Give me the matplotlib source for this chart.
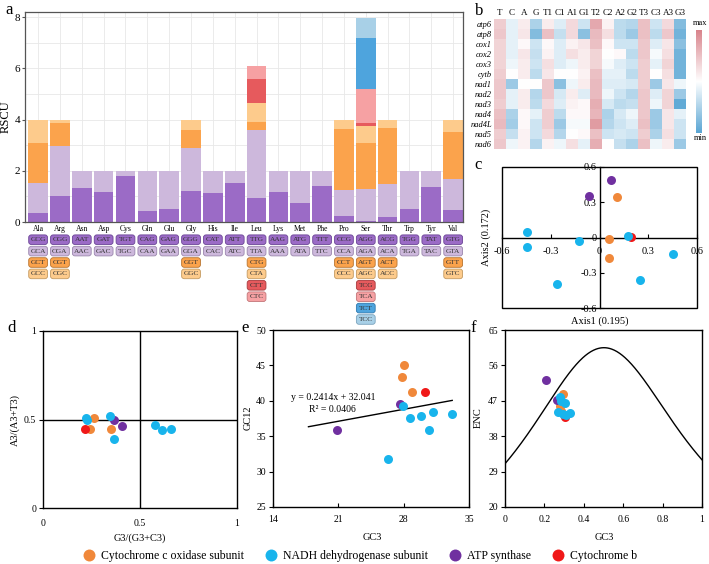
import numpy as np
import matplotlib
matplotlib.use('Agg')
import matplotlib.pyplot as plt
from matplotlib.colors import LinearSegmentedColormap
from matplotlib.patches import FancyBboxPatch, Rectangle
from matplotlib.lines import Line2D
from matplotlib.ticker import MultipleLocator
import matplotlib.transforms as mtransforms

plt.rcParams['font.family'] = ['Liberation Serif', 'DejaVu Serif']

# ---------------- data: panel a ----------------
amino = ['Ala', 'Arg', 'Asn', 'Asp', 'Cys', 'Gln', 'Glu', 'Gly', 'His', 'Ile',
         'Leu', 'Lys', 'Met', 'Phe', 'Pro', 'Ser', 'Thr', 'Trp', 'Tyr', 'Val']
codons = [
    ['GCG', 'GCA', 'GCT', 'GCC'],
    ['CGG', 'CGA', 'CGT', 'CGC'],
    ['AAT', 'AAC'],
    ['GAT', 'GAC'],
    ['TGT', 'TGC'],
    ['CAG', 'CAA'],
    ['GAG', 'GAA'],
    ['GGG', 'GGA', 'GGT', 'GGC'],
    ['CAT', 'CAC'],
    ['ATT', 'ATC'],
    ['TTG', 'TTA', 'CTG', 'CTA', 'CTT', 'CTC'],
    ['AAG', 'AAA'],
    ['ATG', 'ATA'],
    ['TTT', 'TTC'],
    ['CCG', 'CCA', 'CCT', 'CCC'],
    ['AGG', 'AGA', 'AGT', 'AGC', 'TCG', 'TCA', 'TCT', 'TCC'],
    ['ACG', 'ACA', 'ACT', 'ACC'],
    ['TGG', 'TGA'],
    ['TAT', 'TAC'],
    ['GTG', 'GTA', 'GTT', 'GTC'],
]
rscu = [
    [0.35, 1.18, 1.57, 0.90],
    [1.00, 1.98, 0.90, 0.12],
    [1.33, 0.67],
    [1.18, 0.82],
    [1.80, 0.20],
    [0.43, 1.57],
    [0.50, 1.50],
    [1.22, 1.68, 0.70, 0.40],
    [1.12, 0.88],
    [1.53, 0.47],
    [0.94, 2.66, 0.32, 0.71, 0.94, 0.51],
    [1.17, 0.83],
    [0.75, 1.25],
    [1.41, 0.59],
    [0.24, 1.01, 2.40, 0.35],
    [0.03, 1.26, 1.81, 0.63, 0.15, 1.32, 2.00, 0.76],
    [0.20, 1.29, 2.20, 0.31],
    [0.51, 1.49],
    [1.37, 0.63],
    [0.47, 1.22, 1.84, 0.47],
]
bar_colors = ['#9b6bc6', '#cdb8dc', '#fba34c', '#fdcb8c', '#e65a5d', '#f6a1a3', '#4ea4dd', '#a8d0e7']
box_edges = ['#6b4596', '#9a86ad', '#b8742f', '#c49a60', '#a83a3d', '#c27578', '#2f7ab0', '#7ba4be']

# ---------------- data: panel b ----------------
genes = ['atp6', 'atp8', 'cox1', 'cox2', 'cox3', 'cytb', 'nad1', 'nad2', 'nad3',
         'nad4', 'nad4L', 'nad5', 'nad6']
positions = ['T', 'C', 'A', 'G', 'T1', 'C1', 'A1', 'G1', 'T2', 'C2', 'A2', 'G2',
             'T3', 'C3', 'A3', 'G3']
heat = np.array([
    [0.40, -0.15, 0.15, -0.50, 0.15, -0.20, 0.30, -0.30, 0.70, 0.10, -0.40, -0.45, 0.50, -0.30, 0.30, -0.75],
    [0.45, -0.15, 0.20, -0.75, 0.50, -0.35, 0.30, -0.70, 0.55, 0.25, -0.40, -0.60, 0.50, -0.40, 0.45, -0.85],
    [0.35, -0.15, 0.05, -0.30, 0.05, -0.20, 0.10, 0.20, 0.50, 0.05, -0.30, -0.30, 0.45, -0.20, 0.20, -0.70],
    [0.35, -0.15, 0.20, -0.35, 0.10, -0.20, 0.25, 0.15, 0.35, 0.00, 0.05, -0.40, 0.45, -0.05, 0.25, -0.85],
    [0.35, -0.10, 0.15, -0.30, 0.25, -0.20, -0.10, 0.15, 0.35, -0.05, -0.20, -0.30, 0.40, -0.15, 0.35, -0.85],
    [0.40, 0.00, 0.15, -0.40, 0.20, 0.00, 0.00, 0.10, 0.50, -0.15, -0.15, -0.40, 0.40, 0.00, 0.25, -0.85],
    [0.45, -0.60, 0.00, 0.00, 0.45, -0.70, -0.10, 0.15, 0.55, -0.20, -0.20, -0.25, 0.40, -0.60, 0.20, -0.10],
    [0.45, -0.15, 0.15, -0.45, 0.45, -0.25, 0.15, -0.20, 0.55, -0.10, -0.30, -0.45, 0.45, -0.20, 0.35, -0.60],
    [0.40, -0.15, 0.15, -0.40, 0.30, -0.20, 0.10, 0.05, 0.65, -0.25, -0.40, -0.35, 0.45, -0.10, 0.35, -0.95],
    [0.50, -0.50, 0.05, -0.15, 0.40, -0.40, 0.05, 0.05, 0.60, -0.50, -0.25, -0.10, 0.45, -0.60, 0.20, -0.15],
    [0.55, -0.55, 0.05, -0.30, 0.40, -0.60, -0.05, -0.05, 0.80, -0.45, -0.30, -0.20, 0.50, -0.60, 0.20, -0.30],
    [0.40, -0.35, 0.10, -0.30, 0.30, -0.45, 0.00, 0.05, 0.50, -0.30, -0.25, -0.30, 0.40, -0.50, 0.25, -0.30],
    [0.45, -0.10, 0.10, -0.45, 0.10, -0.10, 0.25, -0.15, 0.65, 0.00, -0.35, -0.50, 0.50, -0.10, 0.15, -0.60],
])

# ---------------- data: panels c-f ----------------
groups = ['Cytochrome c oxidase subunit', 'NADH dehydrogenase subunit', 'ATP synthase', 'Cytochrome b']
group_colors = ['#f0883a', '#18b4ec', '#7030a0', '#f01818']

c_cox_x = [0.105, 0.06, 0.06];   c_cox_y = [0.343, -0.009, -0.171]
c_nad_x = [-0.446, -0.446, -0.127, -0.261, 0.175, 0.247, 0.452]
c_nad_y = [0.043, -0.077, -0.034, -0.394, 0.014, -0.360, -0.137]
c_atp_x = [0.072, -0.062];        c_atp_y = [0.486, 0.349]
c_cytb_x = [0.195];               c_cytb_y = [0.006]

d_cox_x = [0.263, 0.240, 0.349];  d_cox_y = [0.511, 0.444, 0.449]
d_nad_x = [0.220, 0.344, 0.366, 0.579, 0.615, 0.662, 0.225]
d_nad_y = [0.506, 0.520, 0.388, 0.468, 0.440, 0.444, 0.500]
d_atp_x = [0.366, 0.407];         d_atp_y = [0.500, 0.462]
d_cytb_x = [0.215];               d_cytb_y = [0.449]

e_cox_x = [28.07, 27.86, 28.84];  e_cox_y = [45.0, 43.4, 41.27]
e_nad_x = [27.96, 28.68, 29.87, 31.13, 33.2, 30.67, 26.36]
e_nad_y = [39.25, 37.6, 37.8, 38.4, 38.1, 35.9, 31.8]
e_atp_x = [27.65, 20.86];         e_atp_y = [39.6, 35.85]
e_cytb_x = [30.25];               e_cytb_y = [41.18]
fit_slope, fit_intercept = 0.2414, 32.041
fit_x = [17.8, 33.2]

f_cox_x = [0.292, 0.279, 0.285];  f_cox_y = [48.7, 45.8, 44.5]
f_nad_x = [0.279, 0.307, 0.270, 0.296, 0.330, 0.285, 0.310]
f_nad_y = [47.9, 46.5, 44.2, 43.6, 44.0, 47.0, 43.5]
f_atp_x = [0.209, 0.265];         f_atp_y = [52.2, 47.3]
f_cytb_x = [0.307];               f_cytb_y = [42.9]

# ---------------- figure ----------------
W, H = 709, 564
fig = plt.figure(figsize=(W / 100, H / 100), dpi=100)


def rect(l, t, r, b):
    return [l / W, 1 - b / H, (r - l) / W, (b - t) / H]


def fx(px):
    return px / W


def fy(py):
    return 1 - py / H


# ---------- panel a ----------
axa = fig.add_axes(rect(25, 12, 463, 222))
for i, vals in enumerate(rscu):
    bottom = 0
    for j, v in enumerate(vals):
        axa.bar(i, v, bottom=bottom, width=0.9, color=bar_colors[j], zorder=2, linewidth=0)
        bottom += v
axa.set_xlim(-0.6, 19.45)
axa.set_ylim(0, 8.2)
axa.set_yticks([0, 2, 4, 6, 8])
axa.yaxis.set_minor_locator(MultipleLocator(1))
axa.set_xticks(range(len(amino)))
axa.set_xticklabels(amino, fontsize=5.5)
axa.tick_params(axis='x', length=0, pad=2)
axa.tick_params(axis='y', which='major', labelsize=8, length=2, pad=1.5, color='#555555')
axa.tick_params(axis='y', which='minor', length=0)
axa.set_axisbelow(True)
axa.grid(which='both', color='#e8e8e8', lw=0.6)
for s in axa.spines.values():
    s.set_color('#555555')
    s.set_linewidth(0.9)
axa.set_ylabel('RSCU', fontsize=9, labelpad=2)

trans = mtransforms.blended_transform_factory(axa.transData, fig.transFigure)
bh = 9.6 / H
for i, cl in enumerate(codons):
    for j, cod in enumerate(cl):
        yc = fy(239.7 + 11.4 * j)
        p = FancyBboxPatch((i - 0.43, yc - bh / 2), 0.86, bh,
                           boxstyle='round,pad=0,rounding_size=0.12',
                           mutation_aspect=0.038,
                           facecolor=bar_colors[j], edgecolor=box_edges[j],
                           linewidth=0.6, transform=trans, clip_on=False)
        axa.add_patch(p)
        axa.text(i, yc, cod, transform=trans, ha='center', va='center',
                 fontsize=5.3, color='#333333', clip_on=False)

# ---------- panel b ----------
cmap = LinearSegmentedColormap.from_list('bwr2', ['#5aa6d4', '#ffffff', '#d9848c'])
axb = fig.add_axes(rect(494, 19, 686, 149))
axb.imshow(heat, cmap=cmap, vmin=-1, vmax=1, aspect='auto', interpolation='nearest')
axb.set_xticks(range(len(positions)))
axb.set_xticklabels(positions, fontsize=6.5)
axb.xaxis.tick_top()
axb.set_yticks(range(len(genes)))
axb.set_yticklabels(genes, fontsize=6, style='italic')
axb.tick_params(length=0, pad=1.5)
for s in axb.spines.values():
    s.set_visible(False)

axcb = fig.add_axes(rect(696, 30, 702, 133))
axcb.imshow(np.linspace(1, -1, 200)[:, None], cmap=cmap, vmin=-1, vmax=1, aspect='auto')
axcb.axis('off')
fig.text(fx(700), fy(23), 'max', fontsize=6, ha='center', va='center')
fig.text(fx(700), fy(138), 'min', fontsize=6, ha='center', va='center')

MS = 42


def scatter_groups(ax, data):
    order = [0, 3, 2, 1]
    for k in order:
        x, y = data[k]
        ax.scatter(x, y, s=MS, color=group_colors[k], linewidths=0, zorder=3, clip_on=False)


# ---------- panel c ----------
axc = fig.add_axes(rect(502, 167, 697, 308))
scatter_groups(axc, [(c_cox_x, c_cox_y), (c_nad_x, c_nad_y), (c_atp_x, c_atp_y), (c_cytb_x, c_cytb_y)])
axc.set_xlim(-0.6, 0.6)
axc.set_ylim(-0.6, 0.6)
axc.spines['left'].set_position('zero')
axc.spines['bottom'].set_position('zero')
axc.spines['top'].set_visible(False)
axc.spines['right'].set_visible(False)
for s in ['left', 'bottom']:
    axc.spines[s].set_linewidth(1.0)
axc.add_patch(Rectangle((0, 0), 1, 1, transform=axc.transAxes, fill=False,
                        lw=1.0, ec='black', clip_on=False, zorder=5))
tv = [-0.6, -0.3, 0, 0.3, 0.6]
tl = ['-0.6', '-0.3', '0', '0.3', '0.6']
axc.set_xticks(tv)
axc.set_xticklabels(tl)
axc.set_yticks(tv)
axc.set_yticklabels(tl)
axc.tick_params(axis='x', direction='in', length=3, labelsize=7.5, pad=7)
axc.tick_params(axis='y', direction='in', length=3, labelsize=7.5, pad=2)
fig.text(fx(600), fy(321), 'Axis1 (0.195)', fontsize=7.5, ha='center', va='center')
fig.text(fx(486), fy(237), 'Axis2 (0.172)', fontsize=7.5, ha='center', va='center', rotation=90)

# ---------- panel d ----------
axd = fig.add_axes(rect(43, 331, 237, 508))
scatter_groups(axd, [(d_cox_x, d_cox_y), (d_nad_x, d_nad_y), (d_atp_x, d_atp_y), (d_cytb_x, d_cytb_y)])
axd.set_xlim(0, 1)
axd.set_ylim(0, 1)
axd.axvline(0.5, color='black', lw=1.0, zorder=1)
axd.axhline(0.5, color='black', lw=1.0, zorder=1)
axd.set_xticks([0, 0.5, 1])
axd.set_xticklabels(['0', '0.5', '1'])
axd.set_yticks([0, 0.5, 1])
axd.set_yticklabels(['0', '0.5', '1'])
axd.tick_params(axis='x', direction='in', length=0, labelsize=7, pad=8)
axd.tick_params(axis='y', direction='out', length=3, labelsize=7, pad=2)
for s in axd.spines.values():
    s.set_linewidth(1.0)
fig.text(fx(140), fy(538), 'G3/(G3+C3)', fontsize=7.5, ha='center', va='center')
fig.text(fx(15), fy(420), 'A3/(A3+T3)', fontsize=7.5, ha='center', va='center', rotation=90)

# ---------- panel e ----------
axe = fig.add_axes(rect(273, 330, 469, 507))
scatter_groups(axe, [(e_cox_x, e_cox_y), (e_nad_x, e_nad_y), (e_atp_x, e_atp_y), (e_cytb_x, e_cytb_y)])
fx_arr = np.array(fit_x)
axe.plot(fx_arr, fit_slope * fx_arr + fit_intercept, color='black', lw=1.0, zorder=2)
axe.set_xlim(14, 35)
axe.set_ylim(25, 50)
axe.set_xticks([14, 21, 28, 35])
axe.set_yticks([25, 30, 35, 40, 45, 50])
axe.tick_params(axis='x', direction='in', length=3, labelsize=7, pad=6)
axe.tick_params(axis='y', direction='out', length=3, labelsize=7, pad=2)
for s in axe.spines.values():
    s.set_linewidth(1.0)
axe.text(20.5, 40.5, 'y = %.4fx + %.3f' % (fit_slope, fit_intercept), fontsize=7,
         ha='center', va='center')
axe.text(20.4, 38.8, 'R\u00b2 = 0.0406', fontsize=7, ha='center', va='center')
fig.text(fx(372), fy(537), 'GC3', fontsize=7.5, ha='center', va='center')
fig.text(fx(248), fy(418), 'GC12', fontsize=7.5, ha='center', va='center', rotation=90)

# ---------- panel f ----------
axf = fig.add_axes(rect(505, 330, 702, 507))
s = np.linspace(0, 1, 300)
axf.plot(s, 2 + s + 29 / (s ** 2 + (1 - s) ** 2), color='black', lw=1.0, zorder=2)
scatter_groups(axf, [(f_cox_x, f_cox_y), (f_nad_x, f_nad_y), (f_atp_x, f_atp_y), (f_cytb_x, f_cytb_y)])
axf.set_xlim(0, 1)
axf.set_ylim(20, 65)
axf.set_xticks([0, 0.2, 0.4, 0.6, 0.8, 1])
axf.set_xticklabels(['0', '0.2', '0.4', '0.6', '0.8', '1'])
axf.set_yticks([20, 29, 38, 47, 56, 65])
axf.tick_params(axis='x', direction='in', length=3, labelsize=7, pad=6)
axf.tick_params(axis='y', direction='out', length=3, labelsize=7, pad=2)
for sp in axf.spines.values():
    sp.set_linewidth(1.0)
fig.text(fx(604), fy(537), 'GC3', fontsize=7.5, ha='center', va='center')
fig.text(fx(478), fy(418), 'ENC', fontsize=7.5, ha='center', va='center', rotation=90)

# ---------- legend ----------
handles = [Line2D([0], [0], marker='o', linestyle='none', markersize=8.6,
                  markerfacecolor=c, markeredgewidth=0) for c in group_colors]
fig.legend(handles, groups, loc='center', bbox_to_anchor=(fx(360), fy(556)),
           ncol=4, frameon=False, fontsize=8.5, handlelength=1.0,
           handletextpad=0.5, columnspacing=1.8, borderaxespad=0, borderpad=0)

# ---------- panel letters ----------
for lab, (px, py) in zip('abcdef', [(9, 10), (479, 11), (478, 165), (12, 328), (245, 328), (473, 328)]):
    fig.text(fx(px), fy(py), lab, fontsize=12, ha='center', va='center')

fig.savefig('out.png', dpi=100)
